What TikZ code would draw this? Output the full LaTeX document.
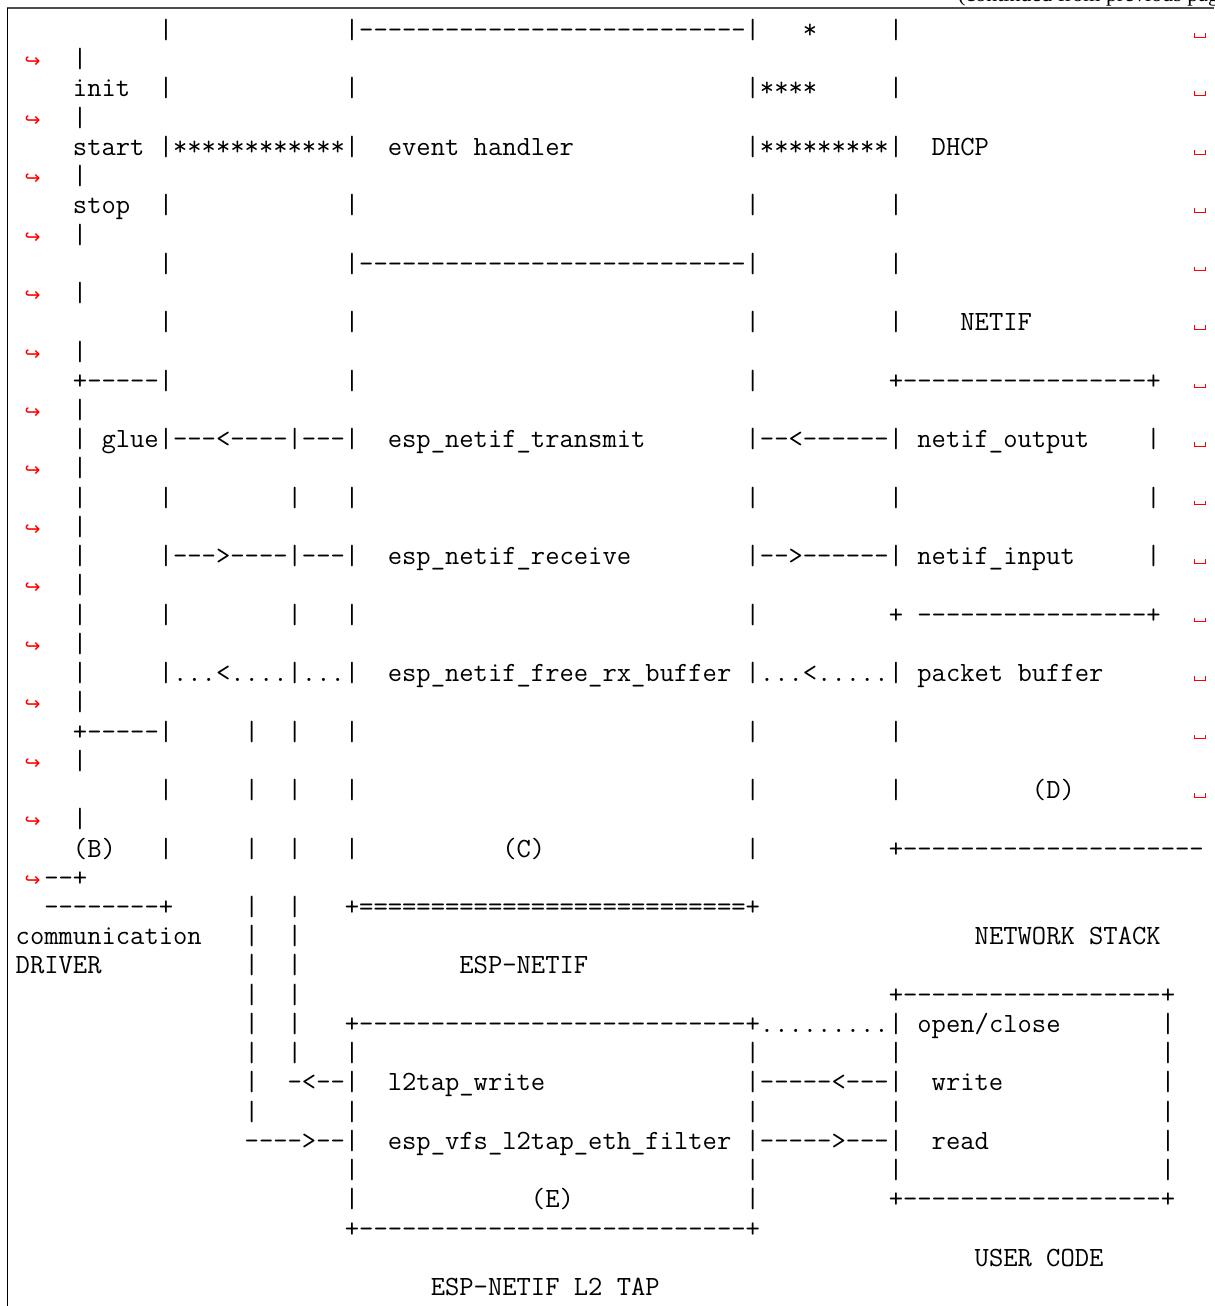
\documentclass[tikz,border=0pt]{standalone}
\usepackage{fontspec}
\setmonofont{Latin Modern Mono}
\newfontfamily\contfont{Liberation Serif}
\newfontfamily\symfont{DejaVu Sans}
% put text at a given column of a code line
\newcommand{\atcol}[2]{\rlap{\hskip#1\fontcharwd\font`0\relax#2}}
% red hook arrow that starts a wrapped line
\newcommand{\hook}{{\color{red}\symfont\fontsize{19}{19}\selectfont ↪}}
\tikzset{
  code/.style={anchor=base west, inner sep=0pt, yshift=-8.5pt, font=\ttfamily\fontsize{27.79}{29}\selectfont},
  spacemark/.style={red, line width=0.8pt},
  contd/.style={anchor=base west, inner sep=0pt, font=\contfont\fontsize{22}{22}\selectfont},
}
\begin{document}
\begin{tikzpicture}[x=14.33pt, y=-29.23pt]
  \useasboundingbox (-1.047,-1.026) rectangle (83.67,43.65);

  % frame of the code block
  \draw[black!70, line width=1.5pt] (-0.558,-0.753) -- (83.67,-0.753);
  \draw[black, line width=0.8pt] (-0.558,-0.753) -- (-0.558,43.65);
  \node[contd] (cont) at (65.8,-0.96) {(continued from previous page)};

  % visible space at the end of each wrapped line
  \foreach \rw in {0,2,...,26}
    \draw[spacemark] (82.27,\rw+0.1) -- (82.27,\rw+0.24) -- (83.04,\rw+0.24) -- (83.04,\rw+0.1);

  % upper part: driver, ESP-NETIF, network stack
  \node[code] (l0) at (0,0) {\atcol{10}{|}\atcol{23}{|---------------------------|}\atcol{55}{*}\atcol{61}{|}};
  \node[code] (l1) at (0,1) {\atcol{0.62}{\hook}\atcol{4}{|}};
  \node[code] (l2) at (0,2) {\atcol{4}{init}\atcol{10}{|}\atcol{23}{|}\atcol{51}{|****}\atcol{61}{|}};
  \node[code] (l3) at (0,3) {\atcol{0.62}{\hook}\atcol{4}{|}};
  \node[code] (l4) at (0,4) {\atcol{4}{start}\atcol{10}{|************|}\atcol{26}{event handler}\atcol{51}{|*********|}\atcol{64}{DHCP}};
  \node[code] (l5) at (0,5) {\atcol{0.62}{\hook}\atcol{4}{|}};
  \node[code] (l6) at (0,6) {\atcol{4}{stop}\atcol{10}{|}\atcol{23}{|}\atcol{51}{|}\atcol{61}{|}};
  \node[code] (l7) at (0,7) {\atcol{0.62}{\hook}\atcol{4}{|}};
  \node[code] (l8) at (0,8) {\atcol{10}{|}\atcol{23}{|---------------------------|}\atcol{61}{|}};
  \node[code] (l9) at (0,9) {\atcol{0.62}{\hook}\atcol{4}{|}};
  \node[code] (l10) at (0,10) {\atcol{10}{|}\atcol{23}{|}\atcol{51}{|}\atcol{61}{|}\atcol{66}{NETIF}};
  \node[code] (l11) at (0,11) {\atcol{0.62}{\hook}\atcol{4}{|}};
  \node[code] (l12) at (0,12) {\atcol{4}{+-----|}\atcol{23}{|}\atcol{51}{|}\atcol{61}{+-----------------+}};
  \node[code] (l13) at (0,13) {\atcol{0.62}{\hook}\atcol{4}{|}};
  \node[code] (l14) at (0,14) {\atcol{4}{| glue|---<----|---|}\atcol{26}{esp\_netif\_transmit}\atcol{51}{|--<------|}\atcol{63}{netif\_output}\atcol{79}{|}};
  \node[code] (l15) at (0,15) {\atcol{0.62}{\hook}\atcol{4}{|}};
  \node[code] (l16) at (0,16) {\atcol{4}{|}\atcol{10}{|}\atcol{19}{|}\atcol{23}{|}\atcol{51}{|}\atcol{61}{|}\atcol{79}{|}};
  \node[code] (l17) at (0,17) {\atcol{0.62}{\hook}\atcol{4}{|}};
  \node[code] (l18) at (0,18) {\atcol{4}{|}\atcol{10}{|--->----|---|}\atcol{26}{esp\_netif\_receive}\atcol{51}{|-->------|}\atcol{63}{netif\_input}\atcol{79}{|}};
  \node[code] (l19) at (0,19) {\atcol{0.62}{\hook}\atcol{4}{|}};
  \node[code] (l20) at (0,20) {\atcol{4}{|}\atcol{10}{|}\atcol{19}{|}\atcol{23}{|}\atcol{51}{|}\atcol{61}{+}\atcol{63}{----------------+}};
  \node[code] (l21) at (0,21) {\atcol{0.62}{\hook}\atcol{4}{|}};
  \node[code] (l22) at (0,22) {\atcol{4}{|}\atcol{10}{|...<....|...|}\atcol{26}{esp\_netif\_free\_rx\_buffer}\atcol{51}{|...<.....|}\atcol{63}{packet buffer}};
  \node[code] (l23) at (0,23) {\atcol{0.62}{\hook}\atcol{4}{|}};
  \node[code] (l24) at (0,24) {\atcol{4}{+-----|}\atcol{16}{|}\atcol{19}{|}\atcol{23}{|}\atcol{51}{|}\atcol{61}{|}};
  \node[code] (l25) at (0,25) {\atcol{0.62}{\hook}\atcol{4}{|}};
  \node[code] (l26) at (0,26) {\atcol{10}{|}\atcol{16}{|}\atcol{19}{|}\atcol{23}{|}\atcol{51}{|}\atcol{61}{|}\atcol{71}{(D)}};
  \node[code] (l27) at (0,27) {\atcol{0.62}{\hook}\atcol{4}{|}};
  \node[code] (l28) at (0,28) {\atcol{4}{(B)}\atcol{10}{|}\atcol{16}{|}\atcol{19}{|}\atcol{23}{|}\atcol{34}{(C)}\atcol{51}{|}\atcol{61}{+---------------------}};
  \node[code] (l29) at (0,29) {\atcol{0.62}{\hook}\atcol{2}{--+}};
  \node[code] (l30) at (0,30) {\atcol{2}{--------+}\atcol{16}{|}\atcol{19}{|}\atcol{23}{+===========================+}};
  \node[code] (l31) at (0,31) {\atcol{0}{communication}\atcol{16}{|}\atcol{19}{|}\atcol{67}{NETWORK STACK}};
  \node[code] (l32) at (0,32) {\atcol{0}{DRIVER}\atcol{16}{|}\atcol{19}{|}\atcol{31}{ESP-NETIF}};

  % lower part: L2 TAP and user code
  \node[code] (l33) at (0,33) {\atcol{16}{|}\atcol{19}{|}\atcol{61}{+------------------+}};
  \node[code] (l34) at (0,34) {\atcol{16}{|}\atcol{19}{|}\atcol{23}{+---------------------------+.........|}\atcol{63}{open/close}\atcol{80}{|}};
  \node[code] (l35) at (0,35) {\atcol{16}{|}\atcol{19}{|}\atcol{23}{|}\atcol{51}{|}\atcol{61}{|}\atcol{80}{|}};
  \node[code] (l36) at (0,36) {\atcol{16}{|}\atcol{19}{-<--|}\atcol{26}{l2tap\_write}\atcol{51}{|-----<---|}\atcol{64}{write}\atcol{80}{|}};
  \node[code] (l37) at (0,37) {\atcol{16}{|}\atcol{23}{|}\atcol{51}{|}\atcol{61}{|}\atcol{80}{|}};
  \node[code] (l38) at (0,38) {\atcol{16}{---->--|}\atcol{26}{esp\_vfs\_l2tap\_eth\_filter}\atcol{51}{|----->---|}\atcol{64}{read}\atcol{80}{|}};
  \node[code] (l39) at (0,39) {\atcol{23}{|}\atcol{51}{|}\atcol{61}{|}\atcol{80}{|}};
  \node[code] (l40) at (0,40) {\atcol{23}{|}\atcol{36}{(E)}\atcol{51}{|}\atcol{61}{+------------------+}};
  \node[code] (l41) at (0,41) {\atcol{23}{+---------------------------+}};
  \node[code] (l42) at (0,42) {\atcol{67}{USER CODE}};
  \node[code] (l43) at (0,43) {\atcol{29}{ESP-NETIF L2 TAP}};
\end{tikzpicture}
\end{document}
